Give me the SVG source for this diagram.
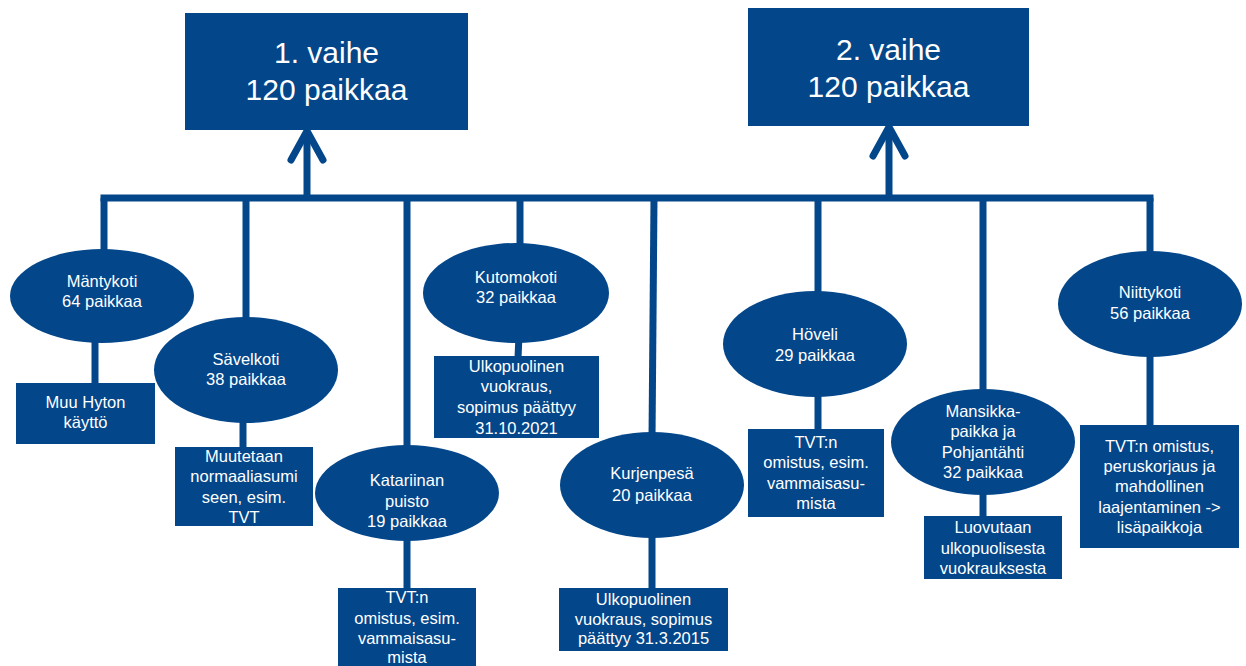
<svg xmlns="http://www.w3.org/2000/svg" width="1246" height="666" viewBox="0 0 1246 666">
<style>
.n{fill:#03468a}
.c{stroke:#03468a;stroke-width:7;fill:none}
.big{font-family:"Liberation Sans",Arial,sans-serif;font-size:30px;fill:#ffffff;text-anchor:middle}
.t{font-family:"Liberation Sans",Arial,sans-serif;font-size:16.5px;fill:#ffffff;text-anchor:middle}
</style>
<rect width="1246" height="666" fill="#ffffff"/>
<g id="connectors">
<line class="c" x1="100.5" y1="198" x2="1153.5" y2="198"/>
<line class="c" x1="307" y1="198" x2="307" y2="134"/>
<path class="c" d="M291,160 L307,131 L323,160" stroke-linecap="round" stroke-linejoin="round"/>
<line class="c" x1="889" y1="198" x2="889" y2="130"/>
<path class="c" d="M873,156 L889,127 L905,156" stroke-linecap="round" stroke-linejoin="round"/>
<line class="c" x1="104" y1="198" x2="104" y2="260"/>
<line class="c" x1="246" y1="198" x2="246" y2="325"/>
<line class="c" x1="407" y1="198" x2="407" y2="455"/>
<line class="c" x1="520" y1="198" x2="520" y2="255"/>
<line class="c" x1="654" y1="198" x2="652" y2="440"/>
<line class="c" x1="818" y1="198" x2="818" y2="300"/>
<line class="c" x1="983" y1="198" x2="983" y2="400"/>
<line class="c" x1="1150" y1="198" x2="1150" y2="260"/>
<line class="c" x1="95" y1="335" x2="95" y2="385"/>
<line class="c" x1="243" y1="415" x2="243" y2="449"/>
<line class="c" x1="407" y1="530" x2="407" y2="590"/>
<line class="c" x1="519" y1="335" x2="518" y2="358"/>
<line class="c" x1="652" y1="530" x2="652" y2="590"/>
<line class="c" x1="818" y1="390" x2="818" y2="431"/>
<line class="c" x1="983" y1="490" x2="983" y2="518"/>
<line class="c" x1="1150" y1="350" x2="1150" y2="427"/>
</g>
<g id="vaihe1">
<rect class="n" x="185" y="13" width="283" height="117"/>
<text class="big" x="326.5" y="63">1. vaihe</text>
<text class="big" x="326.5" y="100">120 paikkaa</text>
</g>
<g id="vaihe2">
<rect class="n" x="748" y="8" width="281" height="118"/>
<text class="big" x="888.5" y="60">2. vaihe</text>
<text class="big" x="888.5" y="97">120 paikkaa</text>
</g>
<g id="mantykoti">
<ellipse class="n" cx="102" cy="296" rx="92" ry="47"/>
<text class="t" x="102" y="287">Mäntykoti</text>
<text class="t" x="102" y="307">64 paikkaa</text>
</g>
<g id="mantykoti-note">
<rect class="n" x="16" y="383" width="139" height="61"/>
<text class="t" x="85.5" y="408">Muu Hyton</text>
<text class="t" x="85.5" y="428">käyttö</text>
</g>
<g id="savelkoti">
<ellipse class="n" cx="246" cy="370" rx="92" ry="53"/>
<text class="t" x="246" y="365">Sävelkoti</text>
<text class="t" x="246" y="385">38 paikkaa</text>
</g>
<g id="savelkoti-note">
<rect class="n" x="175" y="447" width="138" height="79"/>
<text class="t" x="244" y="462">Muutetaan</text>
<text class="t" x="244" y="482">normaaliasumi</text>
<text class="t" x="244" y="503">seen, esim.</text>
<text class="t" x="244" y="523">TVT</text>
</g>
<g id="katariinan">
<ellipse class="n" cx="407" cy="493" rx="92" ry="48"/>
<text class="t" x="407" y="486">Katariinan</text>
<text class="t" x="407" y="507">puisto</text>
<text class="t" x="407" y="527">19 paikkaa</text>
</g>
<g id="katariinan-note">
<rect class="n" x="338" y="588" width="138" height="80"/>
<text class="t" x="407" y="603">TVT:n</text>
<text class="t" x="407" y="624">omistus, esim.</text>
<text class="t" x="407" y="644">vammaisasu-</text>
<text class="t" x="407" y="663">mista</text>
</g>
<g id="kutomokoti">
<ellipse class="n" cx="516" cy="293" rx="93" ry="50"/>
<text class="t" x="516" y="283">Kutomokoti</text>
<text class="t" x="516" y="303">32 paikkaa</text>
</g>
<g id="kutomokoti-note">
<rect class="n" x="434" y="356" width="165" height="82"/>
<text class="t" x="516.5" y="372">Ulkopuolinen</text>
<text class="t" x="516.5" y="392">vuokraus,</text>
<text class="t" x="516.5" y="413">sopimus päättyy</text>
<text class="t" x="516.5" y="434">31.10.2021</text>
</g>
<g id="kurjenpesa">
<ellipse class="n" cx="652" cy="485" rx="92" ry="53"/>
<text class="t" x="652" y="479">Kurjenpesä</text>
<text class="t" x="652" y="501">20 paikkaa</text>
</g>
<g id="kurjenpesa-note">
<rect class="n" x="559" y="588" width="169" height="63"/>
<text class="t" x="643.5" y="605">Ulkopuolinen</text>
<text class="t" x="643.5" y="625">vuokraus, sopimus</text>
<text class="t" x="643.5" y="644">päättyy 31.3.2015</text>
</g>
<g id="hoveli">
<ellipse class="n" cx="815" cy="344" rx="92" ry="53"/>
<text class="t" x="815" y="340">Höveli</text>
<text class="t" x="815" y="361">29 paikkaa</text>
</g>
<g id="hoveli-note">
<rect class="n" x="748" y="429" width="136" height="88"/>
<text class="t" x="816" y="448">TVT:n</text>
<text class="t" x="816" y="468">omistus, esim.</text>
<text class="t" x="816" y="489">vammaisasu-</text>
<text class="t" x="816" y="509">mista</text>
</g>
<g id="mansikka">
<ellipse class="n" cx="983" cy="442" rx="92" ry="53"/>
<text class="t" x="983" y="417">Mansikka-</text>
<text class="t" x="983" y="437">paikka ja</text>
<text class="t" x="983" y="458">Pohjantähti</text>
<text class="t" x="983" y="478">32 paikkaa</text>
</g>
<g id="mansikka-note">
<rect class="n" x="924" y="516" width="138" height="63"/>
<text class="t" x="993" y="533">Luovutaan</text>
<text class="t" x="993" y="554">ulkopuolisesta</text>
<text class="t" x="993" y="574">vuokrauksesta</text>
</g>
<g id="niittykoti">
<ellipse class="n" cx="1150" cy="304" rx="92" ry="53"/>
<text class="t" x="1150" y="298">Niittykoti</text>
<text class="t" x="1150" y="319">56 paikkaa</text>
</g>
<g id="niittykoti-note">
<rect class="n" x="1080" y="425" width="159" height="123"/>
<text class="t" x="1159.5" y="452">TVT:n omistus,</text>
<text class="t" x="1159.5" y="472">peruskorjaus ja</text>
<text class="t" x="1159.5" y="492">mahdollinen</text>
<text class="t" x="1159.5" y="513">laajentaminen -&gt;</text>
<text class="t" x="1159.5" y="533">lisäpaikkoja</text>
</g>
</svg>
